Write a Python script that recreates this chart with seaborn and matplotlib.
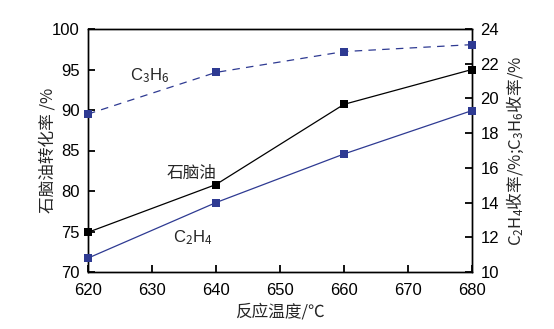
import matplotlib
matplotlib.use("Agg")
import matplotlib.pyplot as plt
import seaborn as sns
import pandas as pd

temps = [620, 640, 660, 680]
naphtha_conv = [74.9, 80.8, 90.7, 95.0]
c2h4_yield = [10.8, 14.0, 16.8, 19.3]
c3h6_yield = [19.1, 21.5, 22.7, 23.1]

sns.set_theme(style="ticks")
plt.rcParams['font.family'] = ['Liberation Sans', 'Noto Sans CJK SC', 'DejaVu Sans']
plt.rcParams['mathtext.fontset'] = 'custom'
plt.rcParams['mathtext.rm'] = 'Noto Sans CJK SC'
plt.rcParams['mathtext.it'] = 'Noto Sans CJK SC'
plt.rcParams['mathtext.default'] = 'rm'

navy = '#2e3a92'
df1 = pd.DataFrame({'t': temps, 'v': naphtha_conv})
df2 = pd.DataFrame({'t': temps, 'v': c2h4_yield})
df3 = pd.DataFrame({'t': temps, 'v': c3h6_yield})

fig = plt.figure(figsize=(5.54, 3.29), dpi=100)
ax = fig.add_axes([88/554, 1-272/329, (472-88)/554, (272-29)/329])
ax2 = ax.twinx()

sns.lineplot(data=df1, x='t', y='v', ax=ax, color='black', lw=0.9,
             marker='s', markersize=6, markeredgewidth=0, clip_on=False, zorder=5)
sns.lineplot(data=df2, x='t', y='v', ax=ax2, color=navy, lw=0.9,
             marker='s', markersize=6, markeredgewidth=0, clip_on=False, zorder=5)
sns.lineplot(data=df3, x='t', y='v', ax=ax2, color=navy, lw=0.9,
             marker='s', markersize=6, markeredgewidth=0, linestyle=(0, (6, 5)),
             clip_on=False, zorder=5)

for a in (ax, ax2):
    a.set_xlim(620, 680)
    for s in a.spines.values():
        s.set_linewidth(1.0)
        s.set_color('black')
        s.set_visible(True)
ax.set_ylim(70, 100)
ax2.set_ylim(10, 24)
ax.set_xticks(range(620, 681, 10))
ax.set_yticks(range(70, 101, 5))
ax2.set_yticks(range(10, 25, 2))
ax.tick_params(axis='both', direction='in', length=5, width=1.3, labelsize=12, pad=6, colors='black')
ax.tick_params(axis='x', pad=8)
ax2.tick_params(axis='y', direction='in', length=5, width=1.3, labelsize=12, pad=6, colors='black')

cjk = ['Noto Sans CJK SC', 'DejaVu Sans']
ax.set_xlabel('反应温度/℃', fontsize=12, family=cjk, labelpad=4)
ax.set_ylabel('石脑油转化率 /%', fontsize=12, family=cjk, labelpad=-3)
ax2.set_ylabel('C$_2$H$_4$收率/%;C$_3$H$_6$收率/%', fontsize=12, family=cjk, labelpad=4)

ax.text(629.7, 94.3, 'C$_3$H$_6$', fontsize=12, ha='center', va='center')
ax.text(636.2, 82.2, '石脑油', fontsize=12, ha='center', va='center', family=cjk)
ax.text(636.3, 74.3, 'C$_2$H$_4$', fontsize=12, ha='center', va='center')

fig.savefig('out.png', dpi=100)
